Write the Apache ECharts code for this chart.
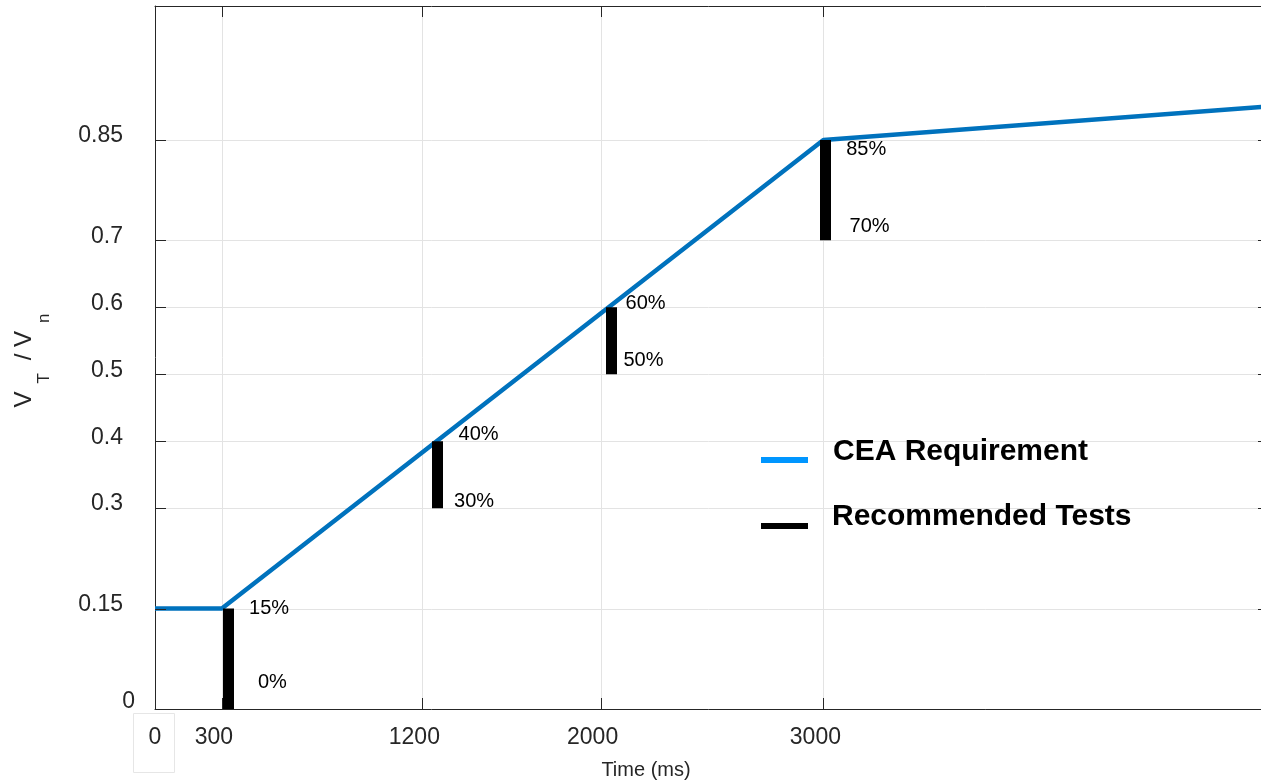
<!DOCTYPE html>
<html>
<head>
<meta charset="utf-8">
<script src="https://cdn.jsdelivr.net/npm/echarts@6/dist/echarts.min.js"></script>
<style>
html,body{margin:0;padding:0;background:#fff;}
#chart{width:1261px;height:784px;}
</style>
</head>
<body>
<div id="chart"></div>
<script>
// ---- data ----
var requirementPoints = [[0, 0.15], [300, 0.15], [3000, 0.85], [5000, 0.9]];
var testX = [330, 1265, 2050, 3010];
var testLow = [0, 0.3, 0.5, 0.7];
var testHigh = [0.15, 0.4, 0.6, 0.85];
var annotText = ['15%', '0%', '40%', '30%', '60%', '50%', '85%', '70%'];
var annotX = [420, 460, 1360, 1340, 2110, 2100, 3100, 3115];
var annotY = [0.15, 0.04, 0.41, 0.31, 0.605, 0.52, 0.835, 0.72];
var xTicks = [0, 300, 1200, 2000, 3000];
var xGrid = [300, 1200, 2000, 3000];
var yTicks = [0, 0.15, 0.3, 0.4, 0.5, 0.6, 0.7, 0.85];
var yGrid = [0.15, 0.3, 0.4, 0.5, 0.6, 0.7, 0.85];
var xMax = 5000, yMax = 1.05;

var FONT = 'Liberation Sans';
var AX = '#262626';
var GRIDC = '#e3e3e3';
var TICK = 11;
var chart = echarts.init(document.getElementById('chart'));

var testData = testX.map(function (x, i) {
  return { coords: [[x, testLow[i]], [x, testHigh[i]]] };
});
var annotData = annotText.map(function (t, i) {
  return { value: [annotX[i], annotY[i]], name: t };
});

function line(x1, y1, x2, y2, color) {
  return { type: 'line', shape: { x1: x1, y1: y1, x2: x2, y2: y2 },
    style: { stroke: color, lineWidth: 1 }, silent: true };
}
function snap(v) { return Math.round(v) + 0.5; }

function vGridRender(params, api) {
  var x = api.value(0);
  var b = api.coord([x, 0]), t = api.coord([x, yMax]);
  var px = snap(b[0]);
  return line(px, b[1], px, t[1], GRIDC);
}
function hGridRender(params, api) {
  var y = api.value(1);
  var l = api.coord([0, y]), r = api.coord([xMax, y]);
  var py = snap(l[1]);
  return line(l[0], py, r[0], py, GRIDC);
}
function vTickRender(params, api) {
  var x = api.value(0);
  var b = api.coord([x, 0]), t = api.coord([x, yMax]);
  var px = snap(b[0]);
  return { type: 'group', children: [
    line(px, b[1], px, b[1] - TICK, AX),
    line(px, t[1], px, t[1] + TICK, AX)
  ] };
}
function hTickRender(params, api) {
  var y = api.value(1);
  var l = api.coord([0, y]), r = api.coord([xMax, y]);
  var py = snap(l[1]);
  return { type: 'group', children: [
    line(l[0], py, l[0] + TICK, py, AX),
    line(r[0], py, r[0] - TICK, py, AX)
  ] };
}

var xData = xGrid.map(function (v) { return [v, 0]; });
var yData = yGrid.map(function (v) { return [0, v]; });

function xAxisBase(pos, labels) {
  return {
    type: 'value', min: 0, max: xMax, position: pos,
    axisLine: { show: true, onZero: false, lineStyle: { color: AX, width: 1 } },
    axisTick: { show: false },
    axisLabel: labels ? {
      show: true, customValues: xTicks, margin: 17, fontFamily: FONT, fontSize: 23, color: AX,
      formatter: function (v) { return v === 0 ? '{z|0}' : '{s|' + v + '}'; },
      rich: { s: { padding: [0, 16, 0, 0], fontFamily: FONT, fontSize: 23, color: AX },
              z: { fontFamily: FONT, fontSize: 23, color: AX } }
    } : { show: false },
    splitLine: { show: false }
  };
}
function yAxisBase(pos, labels) {
  return {
    type: 'value', min: 0, max: yMax, position: pos,
    axisLine: { show: true, onZero: false, lineStyle: { color: AX, width: 1 } },
    axisTick: { show: false },
    axisLabel: labels ? {
      show: true, customValues: yTicks, margin: 20, fontFamily: FONT, fontSize: 23, color: AX,
      formatter: function (v) { return v === 0 ? '{z|0}' : '{s|' + v + '}'; },
      rich: { s: { padding: [0, 12, 8, 0], fontFamily: FONT, fontSize: 23, color: AX },
              z: { padding: [0, 0, 14, 0], fontFamily: FONT, fontSize: 23, color: AX } }
    } : { show: false },
    splitLine: { show: false }
  };
}

var xa = xAxisBase('bottom', true);
xa.name = 'Time (ms)';
xa.nameLocation = 'middle';
xa.nameGap = 51;
xa.nameTextStyle = { fontFamily: FONT, fontSize: 20, color: AX, padding: [0, 132, 0, 0] };
var xt = xAxisBase('top', false);

var ya = yAxisBase('left', true);
ya.name = 'V{sub|T} / V{sub|n}';
ya.nameLocation = 'middle';
ya.nameGap = 102;
ya.nameTextStyle = {
  fontFamily: FONT, fontSize: 24, color: AX,
  rich: { sub: { fontFamily: FONT, fontSize: 17, color: AX, padding: [40, 6, 0, 8] } }
};
var yr = yAxisBase('right', false);

chart.setOption({
  animation: false,
  backgroundColor: '#ffffff',
  grid: { left: 155, right: -8, top: 6, bottom: 75, containLabel: false, outerBoundsMode: 'none' },
  xAxis: [xa, xt],
  yAxis: [ya, yr],
  series: [
    { name: 'vgrid', type: 'custom', data: xData, z: 1, silent: true, renderItem: vGridRender },
    { name: 'hgrid', type: 'custom', data: yData, z: 1, silent: true, renderItem: hGridRender },
    {
      name: 'CEA Requirement', type: 'line', data: requirementPoints, z: 3,
      symbol: 'none', lineStyle: { color: '#0072BD', width: 4.5 }
    },
    {
      name: 'Recommended Tests', type: 'lines', coordinateSystem: 'cartesian2d', z: 4,
      polyline: false, data: testData,
      lineStyle: { color: '#000000', width: 11, opacity: 1, cap: 'butt' }
    },
    {
      name: 'annotations', type: 'scatter', data: annotData, z: 5,
      symbolSize: 1, itemStyle: { color: '#ffffff', opacity: 0 }, silent: true,
      label: {
        show: true, position: 'right', distance: 0, opacity: 1,
        formatter: function (p) { return p.name; },
        fontFamily: FONT, fontSize: 20, color: '#000000'
      }
    },
    { name: 'vticks', type: 'custom', data: xData, z: 6, silent: true, renderItem: vTickRender },
    { name: 'hticks', type: 'custom', data: yData, z: 6, silent: true, renderItem: hTickRender }
  ],
  graphic: [
    { type: 'rect', z: 0, shape: { x: 133.5, y: 713.5, width: 41, height: 59 },
      style: { fill: 'none', stroke: '#e6e6e6', lineWidth: 1 }, silent: true },
    { type: 'rect', z: 20, shape: { x: 761, y: 457, width: 47, height: 6 }, style: { fill: '#0096FF' } },
    { type: 'text', z: 20, style: { x: 833, y: 452, text: 'CEA Requirement', font: 'bold 30px "Liberation Sans"',
      fill: '#000', verticalAlign: 'middle', align: 'left' } },
    { type: 'rect', z: 20, shape: { x: 761, y: 523, width: 47, height: 6 }, style: { fill: '#000000' } },
    { type: 'text', z: 20, style: { x: 832, y: 517, text: 'Recommended Tests', font: 'bold 30px "Liberation Sans"',
      fill: '#000', verticalAlign: 'middle', align: 'left' } }
  ]
});
</script>
</body>
</html>
